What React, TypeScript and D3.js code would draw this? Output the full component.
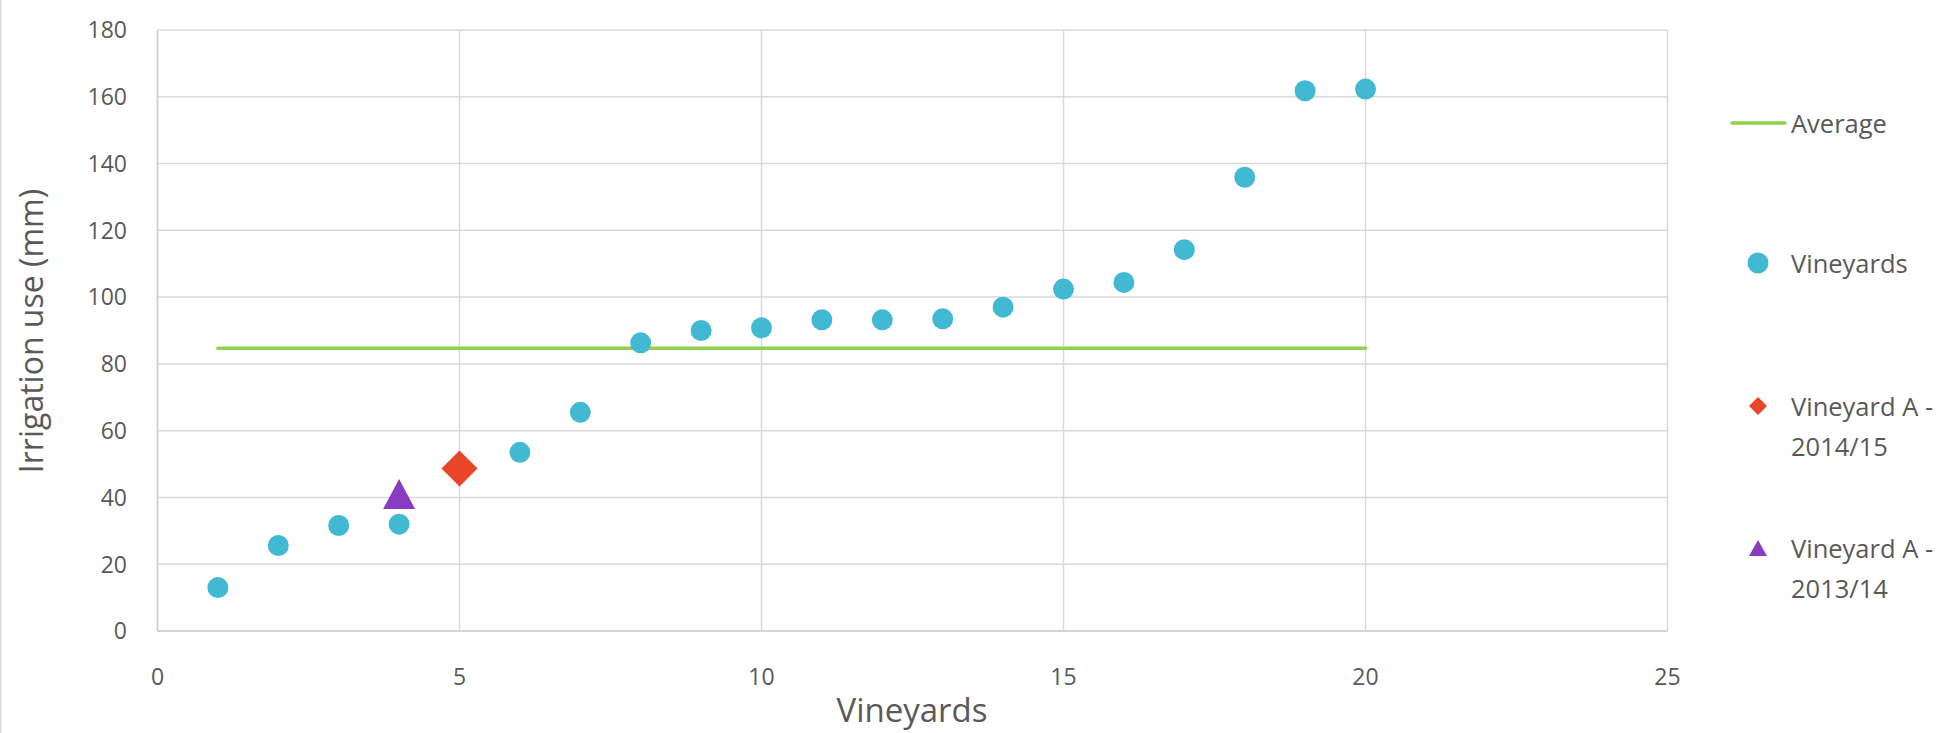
import React from "react";
import * as d3 from "d3";

const vineyardX = [1, 2, 3, 4, 6, 7, 8, 9, 10, 11, 12, 13, 14, 15, 16, 17, 18, 19, 20];
const vineyardY = [13.0, 25.6, 31.6, 32.0, 53.5, 65.5, 86.3, 90.0, 90.8, 93.2, 93.2, 93.5, 97.0, 102.4, 104.4, 114.2, 135.9, 161.8, 162.3];
const vineyardA1415 = [{ x: 5, y: 48.7 }];
const vineyardA1314 = [{ x: 4, y: 41.0 }];
const averageX = [1, 20];
const averageY = [84.7, 84.7];
const xTicks = [0, 5, 10, 15, 20, 25];
const yTicks = [0, 20, 40, 60, 80, 100, 120, 140, 160, 180];

const W = 1950;
const H = 733;
const FONT = "'Open Sans', 'Noto Sans', sans-serif";
const TEXT = "#595959";
const GRID = "#D9D9D9";
const C_BLUE = "#41B9D3";
const C_RED = "#E94527";
const C_PURPLE = "#8A3BC2";
const C_GREEN = "#92D050";

export default function App() {
  const x = d3.scaleLinear().domain([0, 25]).range([157.5, 1667.5]);
  const y = d3.scaleLinear().domain([0, 180]).range([631, 30]);
  const line = d3.line<number>().x((_, i) => x(averageX[i])).y((d) => y(d));
  const diamond = (cx: number, cy: number, r: number) =>
    `M${cx},${cy - r}L${cx + r},${cy}L${cx},${cy + r}L${cx - r},${cy}Z`;
  const tri = (cx: number, cy: number, w: number, h: number) =>
    `M${cx},${cy - h / 2}L${cx + w / 2},${cy + h / 2}L${cx - w / 2},${cy + h / 2}Z`;

  const legX = 1758;
  const legTextX = 1791;
  const LF = 25.5;
  const TF = 23;

  return (
    <svg width={W} height={H} style={{ position: "absolute", left: 0, top: 0, background: "#fff" }}>
      <rect x={0} y={0} width={W} height={H} fill="#fff" />
      <line x1={0.75} x2={0.75} y1={0} y2={H} stroke={GRID} strokeWidth={1.5} />
      {yTicks.map((t) => (
        <line key={"gy" + t} x1={x(0)} x2={x(25)} y1={y(t)} y2={y(t)} stroke={GRID} strokeWidth={1.5} />
      ))}
      {xTicks.map((t) => (
        <line key={"gx" + t} x1={x(t)} x2={x(t)} y1={y(0)} y2={y(180)} stroke={GRID} strokeWidth={1.5} />
      ))}
      <line x1={x(0)} x2={x(0)} y1={y(0)} y2={y(180)} stroke="#CFCFCF" strokeWidth={1.5} />
      <line x1={x(0)} x2={x(25)} y1={y(0)} y2={y(0)} stroke="#CFCFCF" strokeWidth={1.5} />
      {yTicks.map((t) => (
        <text key={"ty" + t} x={127} y={y(t)} dy="0.36em" textAnchor="end" fontFamily={FONT} fontSize={TF} fill={TEXT}>
          {t}
        </text>
      ))}
      {xTicks.map((t) => (
        <text key={"tx" + t} x={x(t)} y={677} dy="0.36em" textAnchor="middle" fontFamily={FONT} fontSize={TF} fill={TEXT}>
          {t}
        </text>
      ))}
      <text
        transform={`translate(31,331) rotate(-90)`}
        dy="0.36em"
        textAnchor="middle"
        fontFamily={FONT}
        fontSize={32}
        fill={TEXT}
      >
        Irrigation use (mm)
      </text>
      <text x={912} y={722} textAnchor="middle" fontFamily={FONT} fontSize={33} fill={TEXT}>
        Vineyards
      </text>
      <path d={line(averageY) || ""} fill="none" stroke={C_GREEN} strokeWidth={3.5} strokeLinecap="round" />
      {vineyardY.map((v, i) => (
        <circle key={"c" + i} cx={x(vineyardX[i])} cy={y(v)} r={10.5} fill={C_BLUE} />
      ))}
      {vineyardA1415.map((d, i) => (
        <path key={"d" + i} d={diamond(x(d.x), y(d.y), 18)} fill={C_RED} />
      ))}
      {vineyardA1314.map((d, i) => (
        <path key={"t" + i} d={tri(x(d.x), y(d.y), 32, 30)} fill={C_PURPLE} />
      ))}
      <line x1={1732} x2={1785} y1={123} y2={123} stroke={C_GREEN} strokeWidth={3.5} strokeLinecap="round" />
      <text x={legTextX} y={124} dy="0.36em" fontFamily={FONT} fontSize={LF} fill={TEXT}>Average</text>
      <circle cx={legX} cy={263} r={10.5} fill={C_BLUE} />
      <text x={legTextX} y={264} dy="0.36em" fontFamily={FONT} fontSize={LF} fill={TEXT}>Vineyards</text>
      <path d={diamond(legX, 406, 9)} fill={C_RED} />
      <text x={legTextX} y={407} dy="0.36em" fontFamily={FONT} fontSize={LF} fill={TEXT}>Vineyard A -</text>
      <text x={legTextX} y={447} dy="0.36em" fontFamily={FONT} fontSize={LF} fill={TEXT}>2014/15</text>
      <path d={tri(legX, 548, 18, 16)} fill={C_PURPLE} />
      <text x={legTextX} y={549} dy="0.36em" fontFamily={FONT} fontSize={LF} fill={TEXT}>Vineyard A -</text>
      <text x={legTextX} y={589} dy="0.36em" fontFamily={FONT} fontSize={LF} fill={TEXT}>2013/14</text>
    </svg>
  );
}
